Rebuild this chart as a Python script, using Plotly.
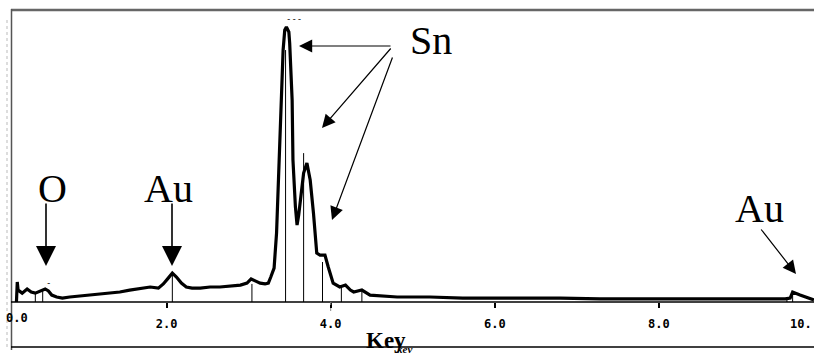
import plotly.graph_objects as go

# ---- spectrum data (energy in keV, counts in arbitrary units) ----
energy_kev = [0.17, 0.18, 0.19, 0.20, 0.24, 0.30, 0.35, 0.40, 0.46, 0.52, 0.56, 0.60, 0.66, 0.73,
              0.82, 0.95, 1.07, 1.19, 1.31, 1.43, 1.55, 1.68, 1.80, 1.90, 1.96, 2.02, 2.07, 2.12,
              2.18, 2.24, 2.31, 2.41, 2.53, 2.65, 2.77, 2.90, 2.98, 3.03, 3.08, 3.14, 3.20, 3.24,
              3.27, 3.31, 3.34, 3.37, 3.40, 3.42, 3.44, 3.46, 3.49, 3.50, 3.53, 3.54, 3.57, 3.59,
              3.61, 3.63, 3.67, 3.71, 3.75, 3.79, 3.83, 3.87, 3.93, 3.97, 4.03, 4.11, 4.18, 4.24,
              4.28, 4.38, 4.48, 4.81, 5.21, 5.61, 6.00, 6.43, 6.80, 7.28, 7.89, 8.50, 9.11, 9.54,
              9.60, 9.63, 9.72, 9.82, 9.89]
counts = [0, 72, 43, 40, 32, 47, 36, 32, 40, 47, 40, 25, 18, 14,
          18, 22, 25, 29, 32, 36, 43, 50, 54, 50, 65, 86, 104, 90,
          68, 54, 50, 50, 54, 54, 58, 61, 68, 83, 76, 68, 65, 68,
          90, 122, 248, 475, 691, 907, 979, 990, 972, 932, 727, 511, 342, 277,
          313, 367, 464, 500, 439, 320, 176, 169, 169, 126, 68, 54, 61, 43,
          36, 43, 25, 18, 18, 14, 14, 14, 14, 11, 11, 11, 11, 11,
          14, 36, 25, 14, 7]

# ---- characteristic line markers ----
marker_kev = [0.40, 0.49, 2.07, 3.04, 3.45, 3.67, 3.90, 4.13, 4.38, 9.56, 9.63]
marker_counts = [32, 47, 104, 65, 907, 536, 144, 54, 43, 18, 34]

# ---- axis ticks ----
tick_vals = [2, 4, 6, 8]
tick_text = ["2.0", "4.0", "6.0", "8.0"]

# ---- labels ----
element_labels = ["O", "Au", "Sn", "Au"]

W, H = 814, 356
TOP, BASE = 9, 302
PH = BASE - TOP
XMIN, XMAX = -2.5 / 82.05, (W - 2.5) / 82.05
YMAX = PH * 3.6


def px(x):
    return x / W


def py(y):
    return (BASE - y) / PH


fig = go.Figure()

# marker lines
mx, my = [], []
for k, c in zip(marker_kev, marker_counts):
    mx += [k, k, None]
    my += [0, c, None]
fig.add_trace(go.Scatter(x=mx, y=my, mode="lines", line=dict(color="black", width=1),
                         hoverinfo="skip", showlegend=False))

# spectrum
fig.add_trace(go.Scatter(x=energy_kev, y=counts, mode="lines",
                         line=dict(color="black", width=3.2), showlegend=False))

shapes = [
    # top border
    dict(type="line", xref="paper", yref="paper", x0=px(11), x1=1, y0=py(10), y1=py(10),
         line=dict(color="#666666", width=2.5)),
    # left border
    dict(type="line", xref="paper", yref="paper", x0=px(11.5), x1=px(11.5), y0=py(9), y1=py(350),
         line=dict(color="#555555", width=1.5)),
    # faint scan line
    dict(type="line", xref="paper", yref="paper", x0=px(7), x1=px(7), y0=py(20), y1=py(350),
         line=dict(color="#bbbbbb", width=1, dash="dot")),
    # axis baseline
    dict(type="line", xref="paper", yref="paper", x0=px(11), x1=1, y0=0, y1=0,
         line=dict(color="black", width=1.5)),
    # bottom border
    dict(type="line", xref="paper", yref="paper", x0=px(11), x1=1, y0=py(347), y1=py(347),
         line=dict(color="black", width=1.5)),
    # dotted line at 4.0
    dict(type="line", xref="x", yref="paper", x0=4.0, x1=4.0, y0=0, y1=py(313),
         line=dict(color="#888888", width=1, dash="dot")),
]

serif = "Liberation Serif"
ann = []


def label(text, x, y, size=40, family=serif, weight="normal", color="black",
          xanchor="center", style="normal"):
    ann.append(dict(text=text, xref="paper", yref="paper", x=px(x), y=py(y),
                    xanchor=xanchor, yanchor="middle", showarrow=False,
                    font=dict(family=family, size=size, color=color, weight=weight,
                              style=style)))


def arrow(tail, tip, width=1.5, size=2.6):
    ann.append(dict(text="", xref="paper", yref="paper", x=px(tip[0]), y=py(tip[1]),
                    ax=tail[0] - tip[0], ay=tail[1] - tip[1], showarrow=True,
                    arrowhead=2, arrowsize=size, arrowwidth=width, arrowcolor="black",
                    standoff=0))


label(element_labels[0], 52, 188)
label(element_labels[1], 168, 188)
label(element_labels[2], 431, 41)
label(element_labels[3], 759, 209)

arrow((46, 202), (46, 266), width=1.6, size=2.5)
arrow((172, 202), (172, 266), width=1.6, size=2.5)
arrow((392, 46), (299, 46), width=1.2, size=2.2)
arrow((392, 47), (322, 128), width=1.2, size=2.2)
arrow((393, 56), (332, 220), width=1.2, size=2.2)
arrow((760, 228), (796, 274), width=1.2, size=2.2)

mono = "DejaVu Sans Mono"
label("0.0", 17, 318, size=12, family=mono, weight="bold")
label("10.", 814, 324, size=12, family=mono, weight="bold", xanchor="right")
label("Key", 386, 340, size=23, family=serif, weight="bold")
label("kev", 404, 349, size=11, family=serif, weight="bold", style="italic")
label("---", 294, 19, size=9, family=mono)
label("-", 48, 283, size=9, family=mono)

fig.update_layout(
    width=W, height=H,
    margin=dict(l=0, r=0, t=TOP, b=H - BASE),
    paper_bgcolor="white", plot_bgcolor="white",
    shapes=shapes, annotations=ann,
    xaxis=dict(range=[XMIN, XMAX], showgrid=False, zeroline=False, showline=False,
               tickvals=tick_vals, ticktext=tick_text, ticks="outside", ticklen=5,
               tickwidth=2, tickcolor="black", ticklabelstandoff=6,
               tickfont=dict(family=mono, size=12, color="black", weight="bold")),
    yaxis=dict(range=[0, YMAX], visible=False, showgrid=False, zeroline=False),
)

fig.write_html("out.html", config={"displayModeBar": False},
               post_script="document.body.style.margin='0';document.body.style.overflow='hidden';")
